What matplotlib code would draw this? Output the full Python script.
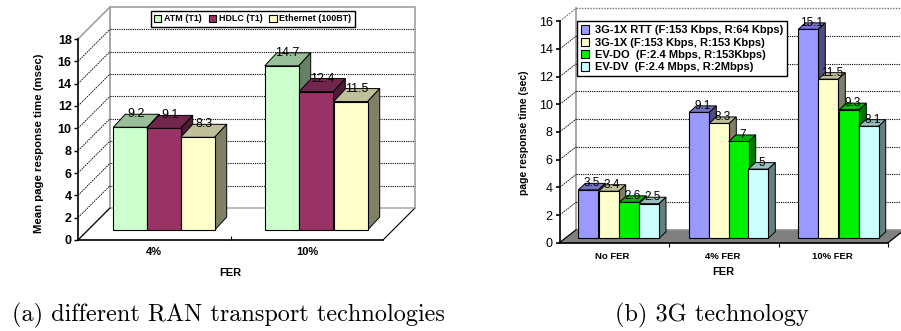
import matplotlib
matplotlib.use('Agg')
import matplotlib.pyplot as plt
from matplotlib.patches import Patch
from matplotlib import colors as mc

plt.rcParams['font.family'] = ['Liberation Sans', 'DejaVu Sans']
plt.rcParams['font.weight'] = 'bold'

W, H = 901, 331

# left chart
a_groups = ['4%', '10%']
a_names = ['ATM (T1)', 'HDLC (T1)', 'Ethernet (100BT)']
a_colors = ['#CCFFCC', '#993366', '#FFFFCC']
a_values = [[9.2, 9.1, 8.3], [14.7, 12.4, 11.5]]
a_labels = [['9.2', '9.1', '8.3'], ['14.7', '12.4', '11.5']]
a_ticks = [0, 2, 4, 6, 8, 10, 12, 14, 16, 18]

# right chart
b_groups = ['No FER', '4% FER', '10% FER']
b_names = ['3G-1X RTT (F:153 Kbps, R:64 Kbps)', '3G-1X (F:153 Kbps, R:153 Kbps)',
           'EV-DO  (F:2.4 Mbps, R:153Kbps)', 'EV-DV  (F:2.4 Mbps, R:2Mbps)']
b_colors = ['#9999FF', '#FFFFCC', '#00F000', '#CCFFFF']
b_values = [[3.5, 3.4, 2.6, 2.5], [9.1, 8.3, 7, 5], [15.1, 11.5, 9.3, 8.1]]
b_labels = [['3.5', '3.4', '2.6', '2.5'], ['9.1', '8.3', '7', '5'], ['15.1', '11.5', '9.3', '8.1']]
b_ticks = [0, 2, 4, 6, 8, 10, 12, 14, 16]


def shade(c, f):
    r, g, b = mc.to_rgb(c)
    return (r * f, g * f, b * f)


def make_axes(fig, left, bottom, right, top):
    return fig.add_axes([left / W, (H - bottom) / H, (right - left) / W, (bottom - top) / H])


def draw_wall(ax, ticks, wx, wy, wall_color, floor_color, closed):
    # wx, wy = depth of the back wall in pixels
    x1 = ax.get_xlim()[1]
    y1 = ax.get_ylim()[1]
    px = ax.get_position().width * W / x1
    py = ax.get_position().height * H / y1
    dx, dy = wx / px, wy / py
    ax.fill([0, dx, x1 + dx, x1], [0, dy, dy, 0], color=floor_color, zorder=1, clip_on=False)
    ax.plot([dx, dx], [dy, y1 + dy], color=wall_color, lw=1.3, zorder=1, clip_on=False)
    ax.plot([0, dx, x1 + dx], [0, dy, dy], color=wall_color, lw=1.0, zorder=1, clip_on=False)
    ax.plot([0, dx], [0, dy], color='black', lw=0.8, zorder=1, clip_on=False)
    ax.plot([x1, x1 + dx], [0, dy], color='black', lw=0.8, zorder=1, clip_on=False)
    for t in ticks[1:]:
        if t == y1:
            continue
        ax.plot([0, dx], [t, t + dy], color='black', lw=0.6, ls=(0, (2, 1)), zorder=1, clip_on=False)
        ax.plot([dx, x1 + dx], [t + dy, t + dy], color='black', lw=0.8, ls=(0, (1, 1)),
                zorder=1, clip_on=False)
    if closed:
        # solid grey frame round the wall
        ax.plot([0, dx, x1 + dx, x1 + dx], [y1, y1 + dy, y1 + dy, dy], color=wall_color, lw=1.2,
                zorder=1, clip_on=False)
    else:
        ax.plot([0, dx], [y1, y1 + dy], color='#707070', lw=0.7, ls=(0, (2, 1)), zorder=1, clip_on=False)
        ax.plot([dx, x1 + dx], [y1 + dy, y1 + dy], color='#707070', lw=1.0, ls=(0, (1, 1)),
                zorder=1, clip_on=False)


def draw_bars(ax, starts, width, values, labels, colors, base, bx, by, fsize):
    # bx, by = depth of the bars in pixels
    x1 = ax.get_xlim()[1]
    y1 = ax.get_ylim()[1]
    px = ax.get_position().width * W / x1
    py = ax.get_position().height * H / y1
    dx, dy = bx / px, by / py
    w = width / px
    b0 = base / py
    for g, start in enumerate(starts):
        for i, v in enumerate(values[g]):
            x = start[i] / px
            c = colors[i]
            top = b0 + v
            ax.fill([x, x + w, x + w + dx, x + dx], [top, top, top + dy, top + dy], facecolor=shade(c, 0.75),
                    edgecolor='black', lw=0.7, zorder=3 + i, clip_on=False)
            ax.fill([x + w, x + w + dx, x + w + dx, x + w], [b0, b0 + dy, top + dy, top], facecolor=shade(c, 0.5),
                    edgecolor='black', lw=0.7, zorder=3 + i, clip_on=False)
            ax.bar(x, v, w, bottom=b0, align='edge', color=c, edgecolor='black', lw=0.8,
                   zorder=3 + i, clip_on=False)
            ax.text(x + w / 2 + dx / 2, top + dy, labels[g][i], ha='center', va='center', fontsize=fsize,
                    fontweight='normal', color='black', zorder=10, clip_on=False)


def style_axes(ax, ticks, groups, fs_y):
    for s in ['top', 'right']:
        ax.spines[s].set_visible(False)
    for s in ['left', 'bottom']:
        ax.spines[s].set_linewidth(1.2)
    ax.set_yticks(ticks)
    ax.tick_params(axis='y', length=3, width=1, pad=1.5, labelsize=fs_y)
    ax.patch.set_alpha(0)


def group_labels(ax, centers, groups, y, fs):
    # category names under the axis, placed on minor ticks
    px = ax.get_position().width * W / ax.get_xlim()[1]
    ax.set_xticks([c / px for c in centers], minor=True)
    ax.set_xticklabels(groups, minor=True)
    ax.tick_params(axis='x', which='minor', length=0, labelsize=fs, pad=y)


fig = plt.figure(figsize=(W / 100, H / 100), dpi=100)

# (a)
ax = make_axes(fig, 78, 240, 383, 39)
ax.set_xlim(0, 2)
ax.set_ylim(0, 18)
style_axes(ax, a_ticks, a_groups, 9)
ax.set_xticks([1])
ax.set_xticklabels([''])
ax.tick_params(axis='x', which='major', direction='in', length=3, width=0.8)
group_labels(ax, [76, 229], a_groups, 5, 8)
draw_wall(ax, a_ticks, 32, 32, '#A0A0A0', 'white', True)
draw_bars(ax, [[35.3, 68.7, 102.7], [186.7, 221.3, 255.7]], 34, a_values, a_labels,
          a_colors, 10, 12, 13, 9)
fig.text(39 / W, 1 - 143 / H, 'Mean page response time (msec)', rotation=90, ha='center', va='center', fontsize=8.2)
fig.text(230 / W, 1 - 273 / H, 'FER', ha='center', va='center', fontsize=8)
leg = ax.legend([Patch(facecolor=c, edgecolor='black', lw=0.8) for c in a_colors], a_names, ncol=3,
                loc='center', bbox_to_anchor=((252.8 - 78) / 305, (240 - 18.7) / 201), fontsize=6.4,
                frameon=True, fancybox=False, framealpha=1, edgecolor='black', handlelength=0.8,
                handleheight=0.8, handletextpad=0.3, columnspacing=0.8, borderpad=0.4, borderaxespad=0)
leg.get_frame().set_linewidth(1.0)
leg.set_zorder(20)

# (b)
ax = make_axes(fig, 559.7, 242.7, 888, 21.3)
ax.set_xlim(0, 3)
ax.set_ylim(0, 16)
style_axes(ax, b_ticks, b_groups, 9)
ax.set_xticks([1, 2, 3])
ax.set_xticklabels(['', '', ''])
ax.tick_params(axis='x', which='major', direction='out', length=3, width=0.8)
ax.tick_params(axis='y', width=1.2, pad=2)
group_labels(ax, [52.6, 163.3, 273], b_groups, 6.5, 6.8)
for t in ax.get_yticklabels():
    t.set_fontweight('normal')
draw_wall(ax, b_ticks, 16.6, 13, '#A0A0A0', '#808080', False)
draw_bars(ax, [[18.6, 39, 59.6, 79.3], [129.6, 149.6, 169, 188.6], [238.6, 258.6, 279.6, 299]], 20,
          b_values, b_labels, b_colors, 4.4, 7, 6.5, 8.5)
fig.text(524 / W, 1 - 133 / H, 'page response time (sec)', rotation=90, ha='center', va='center', fontsize=7.5)
fig.text(723 / W, 1 - 272 / H, 'FER', ha='center', va='center', fontsize=8)
leg = ax.legend([Patch(facecolor=c, edgecolor='black', lw=0.8) for c in b_colors], b_names, ncol=1,
                loc='upper left', bbox_to_anchor=((576.7 - 559.7) / 328.3, 1.0), fontsize=8,
                frameon=True, fancybox=False, framealpha=1, edgecolor='black', handlelength=0.8,
                handleheight=0.8, handletextpad=0.5, labelspacing=0.2, borderpad=0.35, borderaxespad=0)
leg.get_frame().set_linewidth(1.0)
leg.set_zorder(20)

# captions
cap = ['cmr10', 'Liberation Serif']
fig.text(228.5 / W, 1 - 315 / H, '(a) different RAN transport technologies', ha='center', va='center',
         fontsize=17.5, family=cap, fontweight='normal')
fig.text(711.5 / W, 1 - 315 / H, '(b) 3G technology', ha='center', va='center',
         fontsize=17.5, family=cap, fontweight='normal')

fig.savefig('out.png', dpi=100)
